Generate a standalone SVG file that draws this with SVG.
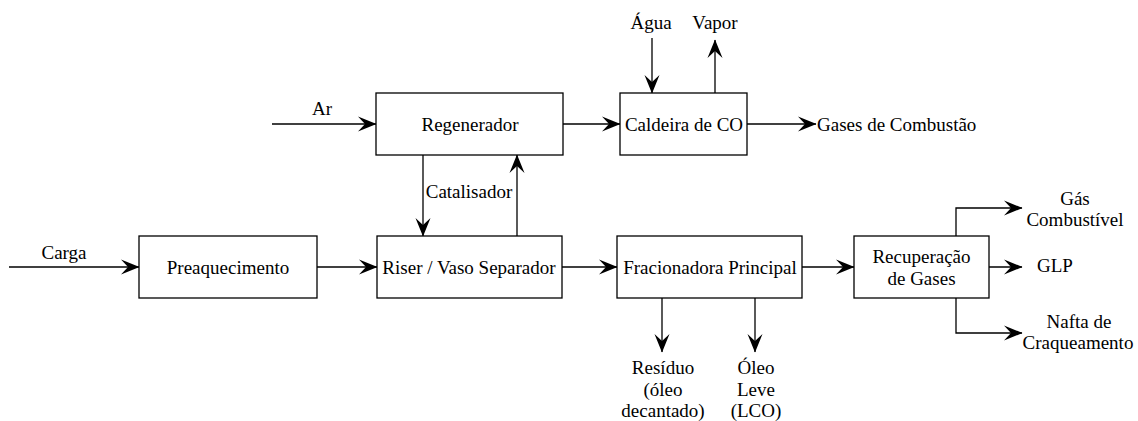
<svg xmlns="http://www.w3.org/2000/svg" width="1138" height="421" viewBox="0 0 1138 421">
<style>
.box{fill:#fff;stroke:#000;stroke-width:1.3}
.ln{fill:none;stroke:#000;stroke-width:1.3;marker-end:url(#ah)}
</style>
<defs>
<marker id="ah" viewBox="-19 -9 20 18" markerWidth="20" markerHeight="18" refX="0" refY="0" orient="auto" markerUnits="userSpaceOnUse">
<path d="M0.5,0 L-18,-7.5 L-11,0 L-18,7.5 Z" fill="#000"/>
</marker>
</defs>
<g id="connectors">
<path class="ln" d="M9,267 H139"/>
<path class="ln" d="M317,267 H377"/>
<path class="ln" d="M562,267 H617"/>
<path class="ln" d="M802,267 H854"/>
<path class="ln" d="M272,124 H376"/>
<path class="ln" d="M563,124 H620"/>
<path class="ln" d="M747,124 H816"/>
<path class="ln" d="M652,38 V93"/>
<path class="ln" d="M715,93 V40"/>
<path class="ln" d="M423,155 V236"/>
<path class="ln" d="M517,236 V155"/>
<path class="ln" d="M662,298 V352"/>
<path class="ln" d="M755,298 V352"/>
<path class="ln" d="M956,236 V208 H1022"/>
<path class="ln" d="M989,267 H1022"/>
<path class="ln" d="M956,298 V333 H1022"/>
</g>
<g id="labels">
<text font-family="Liberation Serif" font-size="19" text-anchor="middle" x="64" y="259">Carga</text>
<text font-family="Liberation Serif" font-size="19" text-anchor="middle" x="322" y="115">Ar</text>
<text font-family="Liberation Serif" font-size="19" text-anchor="middle" x="651" y="29">Água</text>
<text font-family="Liberation Serif" font-size="19" text-anchor="middle" x="715" y="29">Vapor</text>
<text font-family="Liberation Serif" font-size="19" x="817" y="131">Gases de Combustão</text>
<text font-family="Liberation Serif" font-size="19" text-anchor="middle" x="469" y="198">Catalisador</text>
<text font-family="Liberation Serif" font-size="19" text-anchor="middle" x="663" y="374">Resíduo</text>
<text font-family="Liberation Serif" font-size="19" text-anchor="middle" x="663" y="396">(óleo</text>
<text font-family="Liberation Serif" font-size="19" text-anchor="middle" x="663" y="417">decantado)</text>
<text font-family="Liberation Serif" font-size="19" text-anchor="middle" x="756" y="374">Óleo</text>
<text font-family="Liberation Serif" font-size="19" text-anchor="middle" x="756" y="396">Leve</text>
<text font-family="Liberation Serif" font-size="19" text-anchor="middle" x="756" y="417">(LCO)</text>
<text font-family="Liberation Serif" font-size="19" text-anchor="middle" x="1075" y="205">Gás</text>
<text font-family="Liberation Serif" font-size="19" text-anchor="middle" x="1075" y="226">Combustível</text>
<text font-family="Liberation Serif" font-size="19" text-anchor="middle" x="1055" y="272">GLP</text>
<text font-family="Liberation Serif" font-size="19" text-anchor="middle" x="1079" y="328">Nafta de</text>
<text font-family="Liberation Serif" font-size="19" text-anchor="middle" x="1078" y="349">Craqueamento</text>
</g>
<g id="preaquecimento">
<rect class="box" x="139" y="236" width="178" height="62"/>
<text font-family="Liberation Serif" font-size="19" text-anchor="middle" x="228" y="274">Preaquecimento</text>
</g>
<g id="riser">
<rect class="box" x="377" y="236" width="185" height="62"/>
<text font-family="Liberation Serif" font-size="19" text-anchor="middle" x="469" y="274">Riser / Vaso Separador</text>
</g>
<g id="regenerador">
<rect class="box" x="376" y="93" width="187" height="62"/>
<text font-family="Liberation Serif" font-size="19" text-anchor="middle" x="470" y="131">Regenerador</text>
</g>
<g id="caldeira">
<rect class="box" x="620" y="93" width="127" height="62"/>
<text font-family="Liberation Serif" font-size="19" text-anchor="middle" x="684" y="131">Caldeira de CO</text>
</g>
<g id="fracionadora">
<rect class="box" x="617" y="236" width="185" height="62"/>
<text font-family="Liberation Serif" font-size="19" text-anchor="middle" x="710" y="274">Fracionadora Principal</text>
</g>
<g id="recuperacao">
<rect class="box" x="854" y="236" width="135" height="62"/>
<text font-family="Liberation Serif" font-size="19" text-anchor="middle" x="921.5" y="263">Recuperação</text>
<text font-family="Liberation Serif" font-size="19" text-anchor="middle" x="921.5" y="285">de Gases</text>
</g>
</svg>
